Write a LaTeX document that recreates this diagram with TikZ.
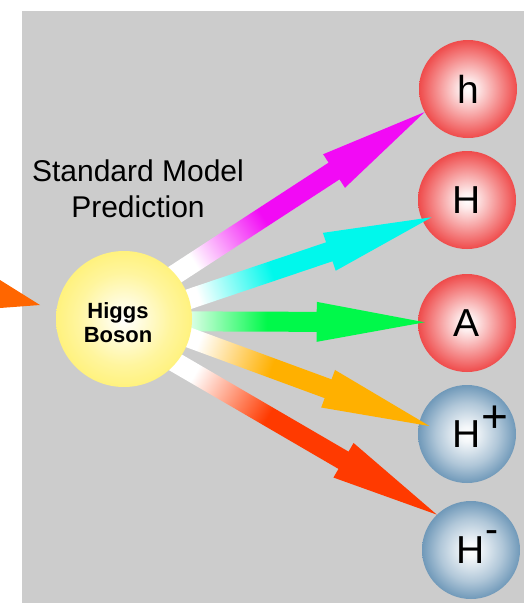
\documentclass[tikz,border=0pt]{standalone}
\usepackage{fontspec}
\setmainfont{Liberation Sans}
\usepackage{xcolor}
\usepackage{tikz}
\usetikzlibrary{calc}

\definecolor{bggray}{HTML}{CCCCCC}
\definecolor{ballred}{HTML}{EF4B4B}
\definecolor{ballblue}{HTML}{7099B9}
\definecolor{ballyellow}{HTML}{FFF27E}
\definecolor{decaymagenta}{HTML}{F20AF5}
\definecolor{decaycyan}{HTML}{00F8EC}
\definecolor{decaygreen}{HTML}{00F94A}
\definecolor{decayorange}{HTML}{FFB000}
\definecolor{decayred}{HTML}{FF3A00}
\definecolor{incoming}{HTML}{FF6600}
\colorlet{arrowcol}{red}

\pgfdeclareradialshading{redball}{\pgfpoint{0bp}{0bp}}{color(0bp)=(white);color(4bp)=(ballred!10!white);color(16bp)=(ballred!62!white);color(25bp)=(ballred);color(50bp)=(ballred)}
\pgfdeclareradialshading{blueball}{\pgfpoint{0bp}{0bp}}{color(0bp)=(white);color(4bp)=(ballblue!8!white);color(16bp)=(ballblue!55!white);color(25bp)=(ballblue);color(50bp)=(ballblue)}
\pgfdeclareradialshading{yellowball}{\pgfpoint{0bp}{0bp}}{color(0bp)=(white);color(6bp)=(ballyellow!25!white);color(17bp)=(ballyellow!75!white);color(25bp)=(ballyellow);color(50bp)=(ballyellow)}
\pgfdeclarehorizontalshading[arrowcol]{decayfade}{100bp}{color(0bp)=(white);color(25bp)=(white);color(43bp)=(arrowcol);color(100bp)=(arrowcol)}

\pgfdeclarelayer{behind}
\pgfdeclarelayer{decays}
\pgfsetlayers{behind,decays,main}

% start, tip, colour, shading angle
\newcommand{\decay}[4]{%
  \colorlet{arrowcol}{#3}
  \coordinate(s0)at($(#1)!-14pt!(#2)$);
  \coordinate(b0)at($(#2)!108pt!(#1)$);
  \shade[shading=decayfade,shading angle=#4]
    ($(s0)!10pt!90:(#2)$)--($(b0)!10pt!-90:(#1)$)--($(b0)!20pt!-90:(#1)$)--(#2)
    --($(b0)!20pt!90:(#1)$)--($(b0)!10pt!90:(#1)$)--($(s0)!10pt!-90:(#2)$)--cycle;
}

\begin{document}
\begin{tikzpicture}[x=1pt,y=-1pt,
  particle/.style={circle,inner sep=0pt,minimum size=98pt,font=\fontsize{39pt}{39pt}\selectfont},
  neutral/.style={particle,shade,shading=redball},
  charged/.style={particle,shade,shading=blueball}]
\useasboundingbox(0,0)rectangle(524,603);
\begin{pgfonlayer}{behind}
\fill[bggray](22,11)rectangle(524,603);
\fill[incoming](0,280)--(40,305)--(0,308)--cycle;
\node[neutral](h)at(468,89){h};
\node[neutral](H)at(467,200){H};
\node[neutral](A)at(467,323){A};
\node[charged](Hp)at(467,434){H\rlap{\smash{\raisebox{15pt}{\fontsize{46pt}{46pt}\selectfont+}}}};
\node[charged](Hm)at(471,550){H\rlap{\smash{\raisebox{21pt}{-}}}};
\end{pgfonlayer}

\node[font=\fontsize{30pt}{36pt}\selectfont,align=center](smp)at(138,189){Standard Model\\Prediction};
\node[circle,inner sep=0pt,minimum size=136pt,shade,shading=yellowball,
  label={[name=higgstext,font=\fontsize{22pt}{24pt}\bfseries\selectfont,align=center,xshift=-6pt,yshift=-4pt]center:Higgs\\Boson}](higgs)at(124,319){};

\coordinate(tiph)at(h.208);
\coordinate(tipH)at($(H.center)!0.8!(H.206)$);
\coordinate(tipA)at($(A.center)!0.86!(A.179)$);
\coordinate(tipHp)at($(Hp.center)!0.78!(Hp.168)$);
\coordinate(tipHm)at(Hm.134);

\begin{pgfonlayer}{decays}
\decay{higgs.41}{tiph}{decaymagenta}{33}
\decay{higgs.17}{tipH}{decaycyan}{18.6}
\decay{higgs.-2}{tipA}{decaygreen}{0}
\decay{higgs.-16}{tipHp}{decayorange}{-20}
\decay{higgs.-40}{tipHm}{decayred}{-30}
\end{pgfonlayer}
\end{tikzpicture}
\end{document}
